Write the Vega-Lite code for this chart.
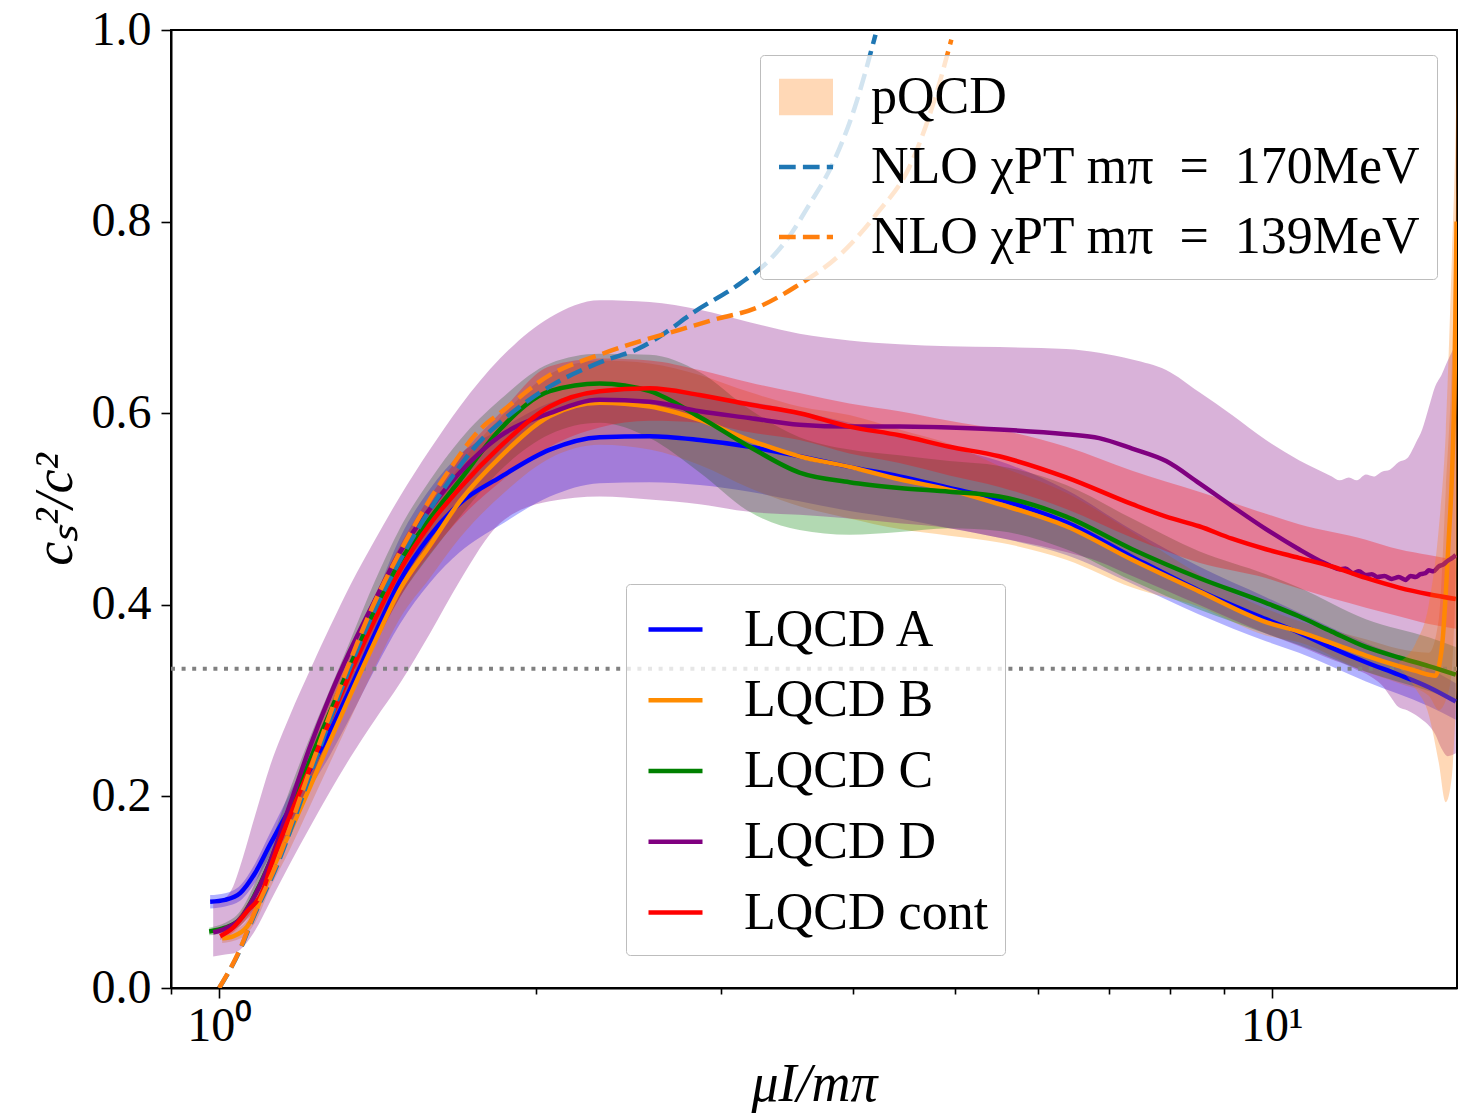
{
  "$schema": "https://vega.github.io/schema/vega-lite/v6.json",
  "width": 1286,
  "height": 958,
  "autosize": {"type": "none"},
  "padding": {"left": 171, "top": 30, "right": 12, "bottom": 127},
  "background": "white",
  "config": {
    "font": "Liberation Serif",
    "view": {"stroke": "black", "strokeWidth": 2},
    "axis": {
      "grid": false,
      "domainColor": "black",
      "domainWidth": 2,
      "tickColor": "black",
      "tickWidth": 1.6,
      "labelColor": "black",
      "labelFont": "Liberation Serif",
      "labelFontSize": 48,
      "titleFont": "Liberation Serif",
      "titleColor": "black",
      "titleFontWeight": "normal"
    },
    "legend": {
      "labelFont": "Liberation Serif",
      "labelFontSize": 52,
      "labelColor": "black",
      "labelLimit": 900,
      "symbolSize": 2916,
      "symbolStrokeWidth": 4.5,
      "padding": 16,
      "symbolOffset": 4,
      "labelOffset": 39,
      "strokeColor": "#bdbdbd",
      "fillColor": "rgba(255,255,255,0.8)",
      "cornerRadius": 4,
      "zindex": 1
    }
  },
  "datasets": {
    "lqcd": [
      {"series": "LQCD A", "mu": 0.9805, "cs2": 0.090}, {"series": "LQCD A", "mu": 1.0132, "cs2": 0.092},
      {"series": "LQCD A", "mu": 1.047, "cs2": 0.099}, {"series": "LQCD A", "mu": 1.0818, "cs2": 0.120},
      {"series": "LQCD A", "mu": 1.118, "cs2": 0.150}, {"series": "LQCD A", "mu": 1.1679, "cs2": 0.188},
      {"series": "LQCD A", "mu": 1.22, "cs2": 0.228}, {"series": "LQCD A", "mu": 1.2745, "cs2": 0.268},
      {"series": "LQCD A", "mu": 1.3314, "cs2": 0.312}, {"series": "LQCD A", "mu": 1.4063, "cs2": 0.370},
      {"series": "LQCD A", "mu": 1.4852, "cs2": 0.425}, {"series": "LQCD A", "mu": 1.5858, "cs2": 0.472},
      {"series": "LQCD A", "mu": 1.6933, "cs2": 0.506}, {"series": "LQCD A", "mu": 1.8483, "cs2": 0.533},
      {"series": "LQCD A", "mu": 2.0616, "cs2": 0.562}, {"series": "LQCD A", "mu": 2.2989, "cs2": 0.575},
      {"series": "LQCD A", "mu": 2.5648, "cs2": 0.576}, {"series": "LQCD A", "mu": 2.8608, "cs2": 0.572},
      {"series": "LQCD A", "mu": 3.1911, "cs2": 0.565}, {"series": "LQCD A", "mu": 3.5593, "cs2": 0.555},
      {"series": "LQCD A", "mu": 3.9704, "cs2": 0.544}, {"series": "LQCD A", "mu": 4.4289, "cs2": 0.534},
      {"series": "LQCD A", "mu": 4.9404, "cs2": 0.522}, {"series": "LQCD A", "mu": 5.5109, "cs2": 0.510},
      {"series": "LQCD A", "mu": 6.3794, "cs2": 0.486}, {"series": "LQCD A", "mu": 7.37, "cs2": 0.450},
      {"series": "LQCD A", "mu": 8.5317, "cs2": 0.415}, {"series": "LQCD A", "mu": 9.8764, "cs2": 0.385},
      {"series": "LQCD A", "mu": 10.615, "cs2": 0.371}, {"series": "LQCD A", "mu": 11.408, "cs2": 0.355},
      {"series": "LQCD A", "mu": 12.289, "cs2": 0.340}, {"series": "LQCD A", "mu": 13.207, "cs2": 0.327},
      {"series": "LQCD A", "mu": 14.102, "cs2": 0.314}, {"series": "LQCD A", "mu": 14.96, "cs2": 0.299},

      {"series": "LQCD B", "mu": 1.0066, "cs2": 0.052}, {"series": "LQCD B", "mu": 1.0311, "cs2": 0.054},
      {"series": "LQCD B", "mu": 1.0631, "cs2": 0.064}, {"series": "LQCD B", "mu": 1.0818, "cs2": 0.078},
      {"series": "LQCD B", "mu": 1.1009, "cs2": 0.100}, {"series": "LQCD B", "mu": 1.118, "cs2": 0.118},
      {"series": "LQCD B", "mu": 1.1679, "cs2": 0.163}, {"series": "LQCD B", "mu": 1.22, "cs2": 0.210},
      {"series": "LQCD B", "mu": 1.2745, "cs2": 0.258}, {"series": "LQCD B", "mu": 1.3314, "cs2": 0.305},
      {"series": "LQCD B", "mu": 1.4063, "cs2": 0.362}, {"series": "LQCD B", "mu": 1.4852, "cs2": 0.416},
      {"series": "LQCD B", "mu": 1.5858, "cs2": 0.462}, {"series": "LQCD B", "mu": 1.6933, "cs2": 0.508},
      {"series": "LQCD B", "mu": 1.8483, "cs2": 0.554}, {"series": "LQCD B", "mu": 2.0616, "cs2": 0.597},
      {"series": "LQCD B", "mu": 2.2989, "cs2": 0.611}, {"series": "LQCD B", "mu": 2.5648, "cs2": 0.607},
      {"series": "LQCD B", "mu": 2.8608, "cs2": 0.593}, {"series": "LQCD B", "mu": 3.1911, "cs2": 0.572},
      {"series": "LQCD B", "mu": 3.5593, "cs2": 0.555}, {"series": "LQCD B", "mu": 3.9704, "cs2": 0.544},
      {"series": "LQCD B", "mu": 4.4289, "cs2": 0.531}, {"series": "LQCD B", "mu": 4.9404, "cs2": 0.520},
      {"series": "LQCD B", "mu": 5.5109, "cs2": 0.505}, {"series": "LQCD B", "mu": 6.3794, "cs2": 0.482},
      {"series": "LQCD B", "mu": 7.37, "cs2": 0.447}, {"series": "LQCD B", "mu": 8.5317, "cs2": 0.414},
      {"series": "LQCD B", "mu": 9.8764, "cs2": 0.382}, {"series": "LQCD B", "mu": 10.615, "cs2": 0.372},
      {"series": "LQCD B", "mu": 11.408, "cs2": 0.360}, {"series": "LQCD B", "mu": 12.289, "cs2": 0.347},
      {"series": "LQCD B", "mu": 13.207, "cs2": 0.336}, {"series": "LQCD B", "mu": 13.706, "cs2": 0.331},
      {"series": "LQCD B", "mu": 14.102, "cs2": 0.327}, {"series": "LQCD B", "mu": 14.32, "cs2": 0.326},
      {"series": "LQCD B", "mu": 14.414, "cs2": 0.335}, {"series": "LQCD B", "mu": 14.54, "cs2": 0.365},
      {"series": "LQCD B", "mu": 14.636, "cs2": 0.412}, {"series": "LQCD B", "mu": 14.733, "cs2": 0.470},
      {"series": "LQCD B", "mu": 14.83, "cs2": 0.531}, {"series": "LQCD B", "mu": 14.928, "cs2": 0.650},
      {"series": "LQCD B", "mu": 14.985, "cs2": 0.800},

      {"series": "LQCD C", "mu": 0.9784, "cs2": 0.059}, {"series": "LQCD C", "mu": 1.0132, "cs2": 0.063},
      {"series": "LQCD C", "mu": 1.047, "cs2": 0.072}, {"series": "LQCD C", "mu": 1.0818, "cs2": 0.098},
      {"series": "LQCD C", "mu": 1.118, "cs2": 0.132}, {"series": "LQCD C", "mu": 1.1679, "cs2": 0.186},
      {"series": "LQCD C", "mu": 1.22, "cs2": 0.238}, {"series": "LQCD C", "mu": 1.2745, "cs2": 0.288},
      {"series": "LQCD C", "mu": 1.3314, "cs2": 0.336}, {"series": "LQCD C", "mu": 1.4063, "cs2": 0.395},
      {"series": "LQCD C", "mu": 1.4852, "cs2": 0.445}, {"series": "LQCD C", "mu": 1.5858, "cs2": 0.490},
      {"series": "LQCD C", "mu": 1.6933, "cs2": 0.530}, {"series": "LQCD C", "mu": 1.8483, "cs2": 0.583},
      {"series": "LQCD C", "mu": 2.0616, "cs2": 0.623}, {"series": "LQCD C", "mu": 2.2989, "cs2": 0.631},
      {"series": "LQCD C", "mu": 2.5648, "cs2": 0.623}, {"series": "LQCD C", "mu": 2.8608, "cs2": 0.596},
      {"series": "LQCD C", "mu": 3.1911, "cs2": 0.565}, {"series": "LQCD C", "mu": 3.5593, "cs2": 0.538},
      {"series": "LQCD C", "mu": 3.9704, "cs2": 0.528}, {"series": "LQCD C", "mu": 4.4289, "cs2": 0.522},
      {"series": "LQCD C", "mu": 4.9404, "cs2": 0.518}, {"series": "LQCD C", "mu": 5.5109, "cs2": 0.513},
      {"series": "LQCD C", "mu": 6.3794, "cs2": 0.492}, {"series": "LQCD C", "mu": 7.37, "cs2": 0.458},
      {"series": "LQCD C", "mu": 8.5317, "cs2": 0.428}, {"series": "LQCD C", "mu": 9.8764, "cs2": 0.402},
      {"series": "LQCD C", "mu": 10.615, "cs2": 0.388}, {"series": "LQCD C", "mu": 11.408, "cs2": 0.372},
      {"series": "LQCD C", "mu": 12.289, "cs2": 0.356}, {"series": "LQCD C", "mu": 13.207, "cs2": 0.345},
      {"series": "LQCD C", "mu": 14.102, "cs2": 0.336}, {"series": "LQCD C", "mu": 14.96, "cs2": 0.327},

      {"series": "LQCD D", "mu": 0.987, "cs2": 0.058}, {"series": "LQCD D", "mu": 1.0132, "cs2": 0.062},
      {"series": "LQCD D", "mu": 1.047, "cs2": 0.072}, {"series": "LQCD D", "mu": 1.0818, "cs2": 0.097},
      {"series": "LQCD D", "mu": 1.118, "cs2": 0.132}, {"series": "LQCD D", "mu": 1.1679, "cs2": 0.192},
      {"series": "LQCD D", "mu": 1.22, "cs2": 0.252}, {"series": "LQCD D", "mu": 1.2745, "cs2": 0.305},
      {"series": "LQCD D", "mu": 1.3314, "cs2": 0.352}, {"series": "LQCD D", "mu": 1.4063, "cs2": 0.405},
      {"series": "LQCD D", "mu": 1.4852, "cs2": 0.455}, {"series": "LQCD D", "mu": 1.5858, "cs2": 0.500},
      {"series": "LQCD D", "mu": 1.6933, "cs2": 0.538}, {"series": "LQCD D", "mu": 1.8483, "cs2": 0.576},
      {"series": "LQCD D", "mu": 2.0616, "cs2": 0.600}, {"series": "LQCD D", "mu": 2.2989, "cs2": 0.614},
      {"series": "LQCD D", "mu": 2.5648, "cs2": 0.612}, {"series": "LQCD D", "mu": 2.8608, "cs2": 0.602},
      {"series": "LQCD D", "mu": 3.1911, "cs2": 0.595}, {"series": "LQCD D", "mu": 3.5593, "cs2": 0.588},
      {"series": "LQCD D", "mu": 3.9704, "cs2": 0.586}, {"series": "LQCD D", "mu": 4.4289, "cs2": 0.586},
      {"series": "LQCD D", "mu": 4.9404, "cs2": 0.585}, {"series": "LQCD D", "mu": 5.5109, "cs2": 0.583},
      {"series": "LQCD D", "mu": 6.3794, "cs2": 0.578}, {"series": "LQCD D", "mu": 6.856, "cs2": 0.574},
      {"series": "LQCD D", "mu": 7.37, "cs2": 0.563}, {"series": "LQCD D", "mu": 7.938, "cs2": 0.550},
      {"series": "LQCD D", "mu": 8.5317, "cs2": 0.527}, {"series": "LQCD D", "mu": 9.169, "cs2": 0.503},
      {"series": "LQCD D", "mu": 9.8764, "cs2": 0.479}, {"series": "LQCD D", "mu": 10.615, "cs2": 0.458},
      {"series": "LQCD D", "mu": 11.2, "cs2": 0.444}, {"series": "LQCD D", "mu": 11.408, "cs2": 0.440},
      {"series": "LQCD D", "mu": 11.6, "cs2": 0.437}, {"series": "LQCD D", "mu": 11.75, "cs2": 0.438},
      {"series": "LQCD D", "mu": 11.95, "cs2": 0.433}, {"series": "LQCD D", "mu": 12.1, "cs2": 0.435},
      {"series": "LQCD D", "mu": 12.289, "cs2": 0.431}, {"series": "LQCD D", "mu": 12.45, "cs2": 0.432},
      {"series": "LQCD D", "mu": 12.6, "cs2": 0.429}, {"series": "LQCD D", "mu": 12.8, "cs2": 0.430},
      {"series": "LQCD D", "mu": 13.0, "cs2": 0.427}, {"series": "LQCD D", "mu": 13.207, "cs2": 0.429},
      {"series": "LQCD D", "mu": 13.4, "cs2": 0.426}, {"series": "LQCD D", "mu": 13.55, "cs2": 0.430},
      {"series": "LQCD D", "mu": 13.706, "cs2": 0.429}, {"series": "LQCD D", "mu": 13.85, "cs2": 0.432},
      {"series": "LQCD D", "mu": 14.0, "cs2": 0.433}, {"series": "LQCD D", "mu": 14.102, "cs2": 0.436},
      {"series": "LQCD D", "mu": 14.25, "cs2": 0.435}, {"series": "LQCD D", "mu": 14.414, "cs2": 0.440},
      {"series": "LQCD D", "mu": 14.55, "cs2": 0.442}, {"series": "LQCD D", "mu": 14.7, "cs2": 0.446},
      {"series": "LQCD D", "mu": 14.85, "cs2": 0.449}, {"series": "LQCD D", "mu": 14.96, "cs2": 0.452},

      {"series": "LQCD cont", "mu": 1.0022, "cs2": 0.054}, {"series": "LQCD cont", "mu": 1.0311, "cs2": 0.063},
      {"series": "LQCD cont", "mu": 1.0631, "cs2": 0.080}, {"series": "LQCD cont", "mu": 1.1009, "cs2": 0.102},
      {"series": "LQCD cont", "mu": 1.118, "cs2": 0.125}, {"series": "LQCD cont", "mu": 1.1679, "cs2": 0.180},
      {"series": "LQCD cont", "mu": 1.22, "cs2": 0.230}, {"series": "LQCD cont", "mu": 1.2745, "cs2": 0.280},
      {"series": "LQCD cont", "mu": 1.3314, "cs2": 0.328}, {"series": "LQCD cont", "mu": 1.4063, "cs2": 0.385},
      {"series": "LQCD cont", "mu": 1.4852, "cs2": 0.436}, {"series": "LQCD cont", "mu": 1.5858, "cs2": 0.484},
      {"series": "LQCD cont", "mu": 1.6933, "cs2": 0.522}, {"series": "LQCD cont", "mu": 1.8483, "cs2": 0.565},
      {"series": "LQCD cont", "mu": 2.0616, "cs2": 0.607}, {"series": "LQCD cont", "mu": 2.2989, "cs2": 0.623},
      {"series": "LQCD cont", "mu": 2.5648, "cs2": 0.626}, {"series": "LQCD cont", "mu": 2.8608, "cs2": 0.619},
      {"series": "LQCD cont", "mu": 3.1911, "cs2": 0.609}, {"series": "LQCD cont", "mu": 3.5593, "cs2": 0.600},
      {"series": "LQCD cont", "mu": 3.9704, "cs2": 0.586}, {"series": "LQCD cont", "mu": 4.4289, "cs2": 0.577},
      {"series": "LQCD cont", "mu": 4.9404, "cs2": 0.565}, {"series": "LQCD cont", "mu": 5.5109, "cs2": 0.555},
      {"series": "LQCD cont", "mu": 6.3794, "cs2": 0.533}, {"series": "LQCD cont", "mu": 7.37, "cs2": 0.505},
      {"series": "LQCD cont", "mu": 7.938, "cs2": 0.492}, {"series": "LQCD cont", "mu": 8.5317, "cs2": 0.482},
      {"series": "LQCD cont", "mu": 9.169, "cs2": 0.469}, {"series": "LQCD cont", "mu": 9.8764, "cs2": 0.458},
      {"series": "LQCD cont", "mu": 10.615, "cs2": 0.449}, {"series": "LQCD cont", "mu": 11.408, "cs2": 0.440},
      {"series": "LQCD cont", "mu": 12.289, "cs2": 0.428}, {"series": "LQCD cont", "mu": 13.207, "cs2": 0.418},
      {"series": "LQCD cont", "mu": 14.102, "cs2": 0.411}, {"series": "LQCD cont", "mu": 14.96, "cs2": 0.406}
    ],
    "bands": [
      {"series": "LQCD A", "mu": 0.9805, "lo": 0.083, "hi": 0.097}, {"series": "LQCD A", "mu": 1.0132, "lo": 0.085, "hi": 0.099},
      {"series": "LQCD A", "mu": 1.047, "lo": 0.091, "hi": 0.107}, {"series": "LQCD A", "mu": 1.0818, "lo": 0.110, "hi": 0.130},
      {"series": "LQCD A", "mu": 1.118, "lo": 0.138, "hi": 0.162}, {"series": "LQCD A", "mu": 1.1679, "lo": 0.172, "hi": 0.204},
      {"series": "LQCD A", "mu": 1.22, "lo": 0.208, "hi": 0.248}, {"series": "LQCD A", "mu": 1.2745, "lo": 0.243, "hi": 0.293},
      {"series": "LQCD A", "mu": 1.3314, "lo": 0.282, "hi": 0.342}, {"series": "LQCD A", "mu": 1.4063, "lo": 0.333, "hi": 0.407},
      {"series": "LQCD A", "mu": 1.4852, "lo": 0.380, "hi": 0.470}, {"series": "LQCD A", "mu": 1.5858, "lo": 0.423, "hi": 0.521},
      {"series": "LQCD A", "mu": 1.6933, "lo": 0.455, "hi": 0.557}, {"series": "LQCD A", "mu": 1.8483, "lo": 0.483, "hi": 0.583},
      {"series": "LQCD A", "mu": 2.0616, "lo": 0.513, "hi": 0.611}, {"series": "LQCD A", "mu": 2.2989, "lo": 0.527, "hi": 0.623},
      {"series": "LQCD A", "mu": 2.5648, "lo": 0.528, "hi": 0.624}, {"series": "LQCD A", "mu": 2.8608, "lo": 0.525, "hi": 0.619},
      {"series": "LQCD A", "mu": 3.1911, "lo": 0.518, "hi": 0.612}, {"series": "LQCD A", "mu": 3.5593, "lo": 0.508, "hi": 0.602},
      {"series": "LQCD A", "mu": 3.9704, "lo": 0.498, "hi": 0.590}, {"series": "LQCD A", "mu": 4.4289, "lo": 0.490, "hi": 0.578},
      {"series": "LQCD A", "mu": 4.9404, "lo": 0.480, "hi": 0.564}, {"series": "LQCD A", "mu": 5.5109, "lo": 0.470, "hi": 0.550},
      {"series": "LQCD A", "mu": 6.3794, "lo": 0.452, "hi": 0.520}, {"series": "LQCD A", "mu": 7.37, "lo": 0.422, "hi": 0.478},
      {"series": "LQCD A", "mu": 8.5317, "lo": 0.390, "hi": 0.440}, {"series": "LQCD A", "mu": 9.8764, "lo": 0.362, "hi": 0.408},
      {"series": "LQCD A", "mu": 10.615, "lo": 0.350, "hi": 0.392}, {"series": "LQCD A", "mu": 12.289, "lo": 0.320, "hi": 0.360},
      {"series": "LQCD A", "mu": 14.102, "lo": 0.294, "hi": 0.334}, {"series": "LQCD A", "mu": 14.96, "lo": 0.280, "hi": 0.318},

      {"series": "LQCD B", "mu": 1.0066, "lo": 0.047, "hi": 0.057}, {"series": "LQCD B", "mu": 1.0311, "lo": 0.049, "hi": 0.060},
      {"series": "LQCD B", "mu": 1.0631, "lo": 0.057, "hi": 0.071}, {"series": "LQCD B", "mu": 1.0818, "lo": 0.068, "hi": 0.088},
      {"series": "LQCD B", "mu": 1.118, "lo": 0.104, "hi": 0.132}, {"series": "LQCD B", "mu": 1.1679, "lo": 0.145, "hi": 0.181},
      {"series": "LQCD B", "mu": 1.22, "lo": 0.190, "hi": 0.230}, {"series": "LQCD B", "mu": 1.2745, "lo": 0.235, "hi": 0.281},
      {"series": "LQCD B", "mu": 1.3314, "lo": 0.280, "hi": 0.330}, {"series": "LQCD B", "mu": 1.4063, "lo": 0.335, "hi": 0.389},
      {"series": "LQCD B", "mu": 1.4852, "lo": 0.386, "hi": 0.446}, {"series": "LQCD B", "mu": 1.5858, "lo": 0.428, "hi": 0.496},
      {"series": "LQCD B", "mu": 1.6933, "lo": 0.470, "hi": 0.546}, {"series": "LQCD B", "mu": 1.8483, "lo": 0.513, "hi": 0.595},
      {"series": "LQCD B", "mu": 2.0616, "lo": 0.553, "hi": 0.641}, {"series": "LQCD B", "mu": 2.2989, "lo": 0.567, "hi": 0.655},
      {"series": "LQCD B", "mu": 2.5648, "lo": 0.562, "hi": 0.652}, {"series": "LQCD B", "mu": 2.8608, "lo": 0.546, "hi": 0.640},
      {"series": "LQCD B", "mu": 3.1911, "lo": 0.522, "hi": 0.622}, {"series": "LQCD B", "mu": 3.5593, "lo": 0.503, "hi": 0.607},
      {"series": "LQCD B", "mu": 3.9704, "lo": 0.490, "hi": 0.598}, {"series": "LQCD B", "mu": 4.4289, "lo": 0.479, "hi": 0.583},
      {"series": "LQCD B", "mu": 4.9404, "lo": 0.472, "hi": 0.568}, {"series": "LQCD B", "mu": 5.5109, "lo": 0.465, "hi": 0.545},
      {"series": "LQCD B", "mu": 6.3794, "lo": 0.447, "hi": 0.517}, {"series": "LQCD B", "mu": 7.37, "lo": 0.418, "hi": 0.476},
      {"series": "LQCD B", "mu": 8.5317, "lo": 0.398, "hi": 0.432}, {"series": "LQCD B", "mu": 9.8764, "lo": 0.368, "hi": 0.396},
      {"series": "LQCD B", "mu": 10.615, "lo": 0.361, "hi": 0.383}, {"series": "LQCD B", "mu": 12.289, "lo": 0.330, "hi": 0.364},
      {"series": "LQCD B", "mu": 13.207, "lo": 0.318, "hi": 0.354}, {"series": "LQCD B", "mu": 14.102, "lo": 0.305, "hi": 0.350},
      {"series": "LQCD B", "mu": 14.414, "lo": 0.290, "hi": 0.385}, {"series": "LQCD B", "mu": 14.636, "lo": 0.300, "hi": 0.520},
      {"series": "LQCD B", "mu": 14.83, "lo": 0.330, "hi": 0.650}, {"series": "LQCD B", "mu": 14.985, "lo": 0.450, "hi": 0.850},

      {"series": "LQCD C", "mu": 0.9784, "lo": 0.055, "hi": 0.063}, {"series": "LQCD C", "mu": 1.0132, "lo": 0.058, "hi": 0.068},
      {"series": "LQCD C", "mu": 1.047, "lo": 0.065, "hi": 0.080}, {"series": "LQCD C", "mu": 1.0818, "lo": 0.085, "hi": 0.110},
      {"series": "LQCD C", "mu": 1.118, "lo": 0.115, "hi": 0.150}, {"series": "LQCD C", "mu": 1.1679, "lo": 0.165, "hi": 0.208},
      {"series": "LQCD C", "mu": 1.22, "lo": 0.215, "hi": 0.262}, {"series": "LQCD C", "mu": 1.2745, "lo": 0.262, "hi": 0.312},
      {"series": "LQCD C", "mu": 1.3314, "lo": 0.307, "hi": 0.362}, {"series": "LQCD C", "mu": 1.4063, "lo": 0.360, "hi": 0.425},
      {"series": "LQCD C", "mu": 1.4852, "lo": 0.408, "hi": 0.480}, {"series": "LQCD C", "mu": 1.5858, "lo": 0.452, "hi": 0.530},
      {"series": "LQCD C", "mu": 1.6933, "lo": 0.492, "hi": 0.572}, {"series": "LQCD C", "mu": 1.8483, "lo": 0.540, "hi": 0.614},
      {"series": "LQCD C", "mu": 2.0616, "lo": 0.578, "hi": 0.652}, {"series": "LQCD C", "mu": 2.2989, "lo": 0.590, "hi": 0.662},
      {"series": "LQCD C", "mu": 2.5648, "lo": 0.574, "hi": 0.661}, {"series": "LQCD C", "mu": 2.8608, "lo": 0.538, "hi": 0.643},
      {"series": "LQCD C", "mu": 3.1911, "lo": 0.497, "hi": 0.604}, {"series": "LQCD C", "mu": 3.5593, "lo": 0.478, "hi": 0.575},
      {"series": "LQCD C", "mu": 3.9704, "lo": 0.473, "hi": 0.562}, {"series": "LQCD C", "mu": 4.4289, "lo": 0.476, "hi": 0.556},
      {"series": "LQCD C", "mu": 4.9404, "lo": 0.480, "hi": 0.550}, {"series": "LQCD C", "mu": 5.5109, "lo": 0.477, "hi": 0.545},
      {"series": "LQCD C", "mu": 6.3794, "lo": 0.458, "hi": 0.525}, {"series": "LQCD C", "mu": 7.37, "lo": 0.425, "hi": 0.490},
      {"series": "LQCD C", "mu": 8.5317, "lo": 0.395, "hi": 0.456}, {"series": "LQCD C", "mu": 9.8764, "lo": 0.370, "hi": 0.432},
      {"series": "LQCD C", "mu": 10.615, "lo": 0.358, "hi": 0.418}, {"series": "LQCD C", "mu": 12.289, "lo": 0.330, "hi": 0.385},
      {"series": "LQCD C", "mu": 14.102, "lo": 0.310, "hi": 0.366}, {"series": "LQCD C", "mu": 14.96, "lo": 0.300, "hi": 0.356},

      {"series": "LQCD D", "mu": 0.987, "lo": 0.033, "hi": 0.090}, {"series": "LQCD D", "mu": 1.0132, "lo": 0.035, "hi": 0.094},
      {"series": "LQCD D", "mu": 1.0311, "lo": 0.036, "hi": 0.106}, {"series": "LQCD D", "mu": 1.047, "lo": 0.040, "hi": 0.127},
      {"series": "LQCD D", "mu": 1.0818, "lo": 0.060, "hi": 0.180}, {"series": "LQCD D", "mu": 1.118, "lo": 0.090, "hi": 0.232},
      {"series": "LQCD D", "mu": 1.1679, "lo": 0.130, "hi": 0.285}, {"series": "LQCD D", "mu": 1.22, "lo": 0.168, "hi": 0.332},
      {"series": "LQCD D", "mu": 1.2745, "lo": 0.205, "hi": 0.377}, {"series": "LQCD D", "mu": 1.3314, "lo": 0.240, "hi": 0.420},
      {"series": "LQCD D", "mu": 1.4063, "lo": 0.280, "hi": 0.468}, {"series": "LQCD D", "mu": 1.4852, "lo": 0.318, "hi": 0.513},
      {"series": "LQCD D", "mu": 1.5858, "lo": 0.370, "hi": 0.562}, {"series": "LQCD D", "mu": 1.6933, "lo": 0.425, "hi": 0.607},
      {"series": "LQCD D", "mu": 1.8483, "lo": 0.485, "hi": 0.657}, {"series": "LQCD D", "mu": 2.0616, "lo": 0.508, "hi": 0.700},
      {"series": "LQCD D", "mu": 2.2989, "lo": 0.513, "hi": 0.718}, {"series": "LQCD D", "mu": 2.5648, "lo": 0.510, "hi": 0.716},
      {"series": "LQCD D", "mu": 2.8608, "lo": 0.505, "hi": 0.708}, {"series": "LQCD D", "mu": 3.1911, "lo": 0.497, "hi": 0.695},
      {"series": "LQCD D", "mu": 3.5593, "lo": 0.494, "hi": 0.683}, {"series": "LQCD D", "mu": 3.9704, "lo": 0.490, "hi": 0.676},
      {"series": "LQCD D", "mu": 4.4289, "lo": 0.485, "hi": 0.672}, {"series": "LQCD D", "mu": 4.9404, "lo": 0.480, "hi": 0.670},
      {"series": "LQCD D", "mu": 5.5109, "lo": 0.470, "hi": 0.669}, {"series": "LQCD D", "mu": 6.3794, "lo": 0.455, "hi": 0.667},
      {"series": "LQCD D", "mu": 6.856, "lo": 0.445, "hi": 0.663}, {"series": "LQCD D", "mu": 7.37, "lo": 0.430, "hi": 0.656},
      {"series": "LQCD D", "mu": 7.938, "lo": 0.415, "hi": 0.645}, {"series": "LQCD D", "mu": 8.5317, "lo": 0.400, "hi": 0.622},
      {"series": "LQCD D", "mu": 9.169, "lo": 0.385, "hi": 0.598}, {"series": "LQCD D", "mu": 9.8764, "lo": 0.370, "hi": 0.572},
      {"series": "LQCD D", "mu": 10.615, "lo": 0.357, "hi": 0.551}, {"series": "LQCD D", "mu": 11.408, "lo": 0.343, "hi": 0.534},
      {"series": "LQCD D", "mu": 11.6, "lo": 0.340, "hi": 0.530}, {"series": "LQCD D", "mu": 11.84, "lo": 0.336, "hi": 0.533},
      {"series": "LQCD D", "mu": 12.05, "lo": 0.332, "hi": 0.530}, {"series": "LQCD D", "mu": 12.289, "lo": 0.328, "hi": 0.536},
      {"series": "LQCD D", "mu": 12.5, "lo": 0.323, "hi": 0.534}, {"series": "LQCD D", "mu": 12.73, "lo": 0.316, "hi": 0.539},
      {"series": "LQCD D", "mu": 12.95, "lo": 0.305, "hi": 0.541}, {"series": "LQCD D", "mu": 13.207, "lo": 0.293, "hi": 0.549},
      {"series": "LQCD D", "mu": 13.45, "lo": 0.290, "hi": 0.553}, {"series": "LQCD D", "mu": 13.706, "lo": 0.285, "hi": 0.569},
      {"series": "LQCD D", "mu": 13.9, "lo": 0.280, "hi": 0.583}, {"series": "LQCD D", "mu": 14.102, "lo": 0.274, "hi": 0.606},
      {"series": "LQCD D", "mu": 14.3, "lo": 0.265, "hi": 0.628}, {"series": "LQCD D", "mu": 14.5, "lo": 0.250, "hi": 0.640},
      {"series": "LQCD D", "mu": 14.7, "lo": 0.242, "hi": 0.655}, {"series": "LQCD D", "mu": 14.96, "lo": 0.245, "hi": 0.672},

      {"series": "LQCD cont", "mu": 1.0022, "lo": 0.050, "hi": 0.058}, {"series": "LQCD cont", "mu": 1.0311, "lo": 0.058, "hi": 0.068},
      {"series": "LQCD cont", "mu": 1.0631, "lo": 0.072, "hi": 0.088}, {"series": "LQCD cont", "mu": 1.1009, "lo": 0.092, "hi": 0.113},
      {"series": "LQCD cont", "mu": 1.118, "lo": 0.112, "hi": 0.138}, {"series": "LQCD cont", "mu": 1.1679, "lo": 0.163, "hi": 0.197},
      {"series": "LQCD cont", "mu": 1.22, "lo": 0.210, "hi": 0.250}, {"series": "LQCD cont", "mu": 1.2745, "lo": 0.258, "hi": 0.302},
      {"series": "LQCD cont", "mu": 1.3314, "lo": 0.305, "hi": 0.352}, {"series": "LQCD cont", "mu": 1.4063, "lo": 0.358, "hi": 0.410},
      {"series": "LQCD cont", "mu": 1.4852, "lo": 0.408, "hi": 0.462}, {"series": "LQCD cont", "mu": 1.5858, "lo": 0.453, "hi": 0.513},
      {"series": "LQCD cont", "mu": 1.6933, "lo": 0.490, "hi": 0.555}, {"series": "LQCD cont", "mu": 1.8483, "lo": 0.528, "hi": 0.600},
      {"series": "LQCD cont", "mu": 2.0616, "lo": 0.565, "hi": 0.649}, {"series": "LQCD cont", "mu": 2.2989, "lo": 0.585, "hi": 0.657},
      {"series": "LQCD cont", "mu": 2.5648, "lo": 0.592, "hi": 0.655}, {"series": "LQCD cont", "mu": 2.8608, "lo": 0.590, "hi": 0.645},
      {"series": "LQCD cont", "mu": 3.1911, "lo": 0.580, "hi": 0.632}, {"series": "LQCD cont", "mu": 3.5593, "lo": 0.572, "hi": 0.621},
      {"series": "LQCD cont", "mu": 3.9704, "lo": 0.558, "hi": 0.610}, {"series": "LQCD cont", "mu": 4.4289, "lo": 0.548, "hi": 0.602},
      {"series": "LQCD cont", "mu": 4.9404, "lo": 0.535, "hi": 0.592}, {"series": "LQCD cont", "mu": 5.5109, "lo": 0.523, "hi": 0.583},
      {"series": "LQCD cont", "mu": 6.3794, "lo": 0.500, "hi": 0.565}, {"series": "LQCD cont", "mu": 7.37, "lo": 0.470, "hi": 0.540},
      {"series": "LQCD cont", "mu": 8.5317, "lo": 0.444, "hi": 0.518}, {"series": "LQCD cont", "mu": 9.8764, "lo": 0.428, "hi": 0.495},
      {"series": "LQCD cont", "mu": 10.615, "lo": 0.417, "hi": 0.484}, {"series": "LQCD cont", "mu": 12.289, "lo": 0.397, "hi": 0.468},
      {"series": "LQCD cont", "mu": 13.207, "lo": 0.388, "hi": 0.458}, {"series": "LQCD cont", "mu": 14.102, "lo": 0.380, "hi": 0.452},
      {"series": "LQCD cont", "mu": 14.96, "lo": 0.375, "hi": 0.447}
    ],
    "pqcd": [
      {"series": "pQCD", "mu": 13.207, "lo": 0.335, "hi": 0.340},
      {"series": "pQCD", "mu": 13.706, "lo": 0.312, "hi": 0.360},
      {"series": "pQCD", "mu": 14.102, "lo": 0.285, "hi": 0.400},
      {"series": "pQCD", "mu": 14.414, "lo": 0.235, "hi": 0.480},
      {"series": "pQCD", "mu": 14.636, "lo": 0.194, "hi": 0.580},
      {"series": "pQCD", "mu": 14.83, "lo": 0.220, "hi": 0.760},
      {"series": "pQCD", "mu": 14.96, "lo": 0.290, "hi": 0.900},
      {"series": "pQCD", "mu": 15.0, "lo": 0.310, "hi": 0.970}
    ],
    "nlo": [
      {"series": "NLO χPT mπ\u2002=\u2002170MeV", "mu": 1.0, "cs2": 0.0},
      {"series": "NLO χPT mπ\u2002=\u2002170MeV", "mu": 1.047, "cs2": 0.040},
      {"series": "NLO χPT mπ\u2002=\u2002170MeV", "mu": 1.077, "cs2": 0.073},
      {"series": "NLO χPT mπ\u2002=\u2002170MeV", "mu": 1.135, "cs2": 0.128},
      {"series": "NLO χPT mπ\u2002=\u2002170MeV", "mu": 1.22, "cs2": 0.222},
      {"series": "NLO χPT mπ\u2002=\u2002170MeV", "mu": 1.311, "cs2": 0.316},
      {"series": "NLO χPT mπ\u2002=\u2002170MeV", "mu": 1.391, "cs2": 0.384},
      {"series": "NLO χPT mπ\u2002=\u2002170MeV", "mu": 1.495, "cs2": 0.452},
      {"series": "NLO χPT mπ\u2002=\u2002170MeV", "mu": 1.632, "cs2": 0.520},
      {"series": "NLO χPT mπ\u2002=\u2002170MeV", "mu": 1.781, "cs2": 0.574},
      {"series": "NLO χPT mπ\u2002=\u2002170MeV", "mu": 1.848, "cs2": 0.590},
      {"series": "NLO χPT mπ\u2002=\u2002170MeV", "mu": 2.062, "cs2": 0.628},
      {"series": "NLO χPT mπ\u2002=\u2002170MeV", "mu": 2.299, "cs2": 0.653},
      {"series": "NLO χPT mπ\u2002=\u2002170MeV", "mu": 2.509, "cs2": 0.668},
      {"series": "NLO χPT mπ\u2002=\u2002170MeV", "mu": 2.621, "cs2": 0.680},
      {"series": "NLO χPT mπ\u2002=\u2002170MeV", "mu": 2.83, "cs2": 0.706},
      {"series": "NLO χPT mπ\u2002=\u2002170MeV", "mu": 3.122, "cs2": 0.735},
      {"series": "NLO χPT mπ\u2002=\u2002170MeV", "mu": 3.334, "cs2": 0.760},
      {"series": "NLO χPT mπ\u2002=\u2002170MeV", "mu": 3.483, "cs2": 0.785},
      {"series": "NLO χPT mπ\u2002=\u2002170MeV", "mu": 3.638, "cs2": 0.818},
      {"series": "NLO χPT mπ\u2002=\u2002170MeV", "mu": 3.826, "cs2": 0.860},
      {"series": "NLO χPT mπ\u2002=\u2002170MeV", "mu": 4.014, "cs2": 0.918},
      {"series": "NLO χPT mπ\u2002=\u2002170MeV", "mu": 4.203, "cs2": 0.995},
      {"series": "NLO χPT mπ\u2002=\u2002139MeV", "mu": 1.0, "cs2": 0.0},
      {"series": "NLO χPT mπ\u2002=\u2002139MeV", "mu": 1.047, "cs2": 0.041},
      {"series": "NLO χPT mπ\u2002=\u2002139MeV", "mu": 1.077, "cs2": 0.075},
      {"series": "NLO χPT mπ\u2002=\u2002139MeV", "mu": 1.135, "cs2": 0.131},
      {"series": "NLO χPT mπ\u2002=\u2002139MeV", "mu": 1.22, "cs2": 0.228},
      {"series": "NLO χPT mπ\u2002=\u2002139MeV", "mu": 1.311, "cs2": 0.322},
      {"series": "NLO χPT mπ\u2002=\u2002139MeV", "mu": 1.391, "cs2": 0.392},
      {"series": "NLO χPT mπ\u2002=\u2002139MeV", "mu": 1.495, "cs2": 0.461},
      {"series": "NLO χPT mπ\u2002=\u2002139MeV", "mu": 1.632, "cs2": 0.531},
      {"series": "NLO χPT mπ\u2002=\u2002139MeV", "mu": 1.781, "cs2": 0.586},
      {"series": "NLO χPT mπ\u2002=\u2002139MeV", "mu": 1.848, "cs2": 0.600},
      {"series": "NLO χPT mπ\u2002=\u2002139MeV", "mu": 2.062, "cs2": 0.640},
      {"series": "NLO χPT mπ\u2002=\u2002139MeV", "mu": 2.299, "cs2": 0.661},
      {"series": "NLO χPT mπ\u2002=\u2002139MeV", "mu": 2.509, "cs2": 0.675},
      {"series": "NLO χPT mπ\u2002=\u2002139MeV", "mu": 2.738, "cs2": 0.687},
      {"series": "NLO χPT mπ\u2002=\u2002139MeV", "mu": 2.937, "cs2": 0.697},
      {"series": "NLO χPT mπ\u2002=\u2002139MeV", "mu": 3.24, "cs2": 0.710},
      {"series": "NLO χPT mπ\u2002=\u2002139MeV", "mu": 3.529, "cs2": 0.732},
      {"series": "NLO χPT mπ\u2002=\u2002139MeV", "mu": 3.902, "cs2": 0.767},
      {"series": "NLO χPT mπ\u2002=\u2002139MeV", "mu": 4.221, "cs2": 0.809},
      {"series": "NLO χPT mπ\u2002=\u2002139MeV", "mu": 4.527, "cs2": 0.857},
      {"series": "NLO χPT mπ\u2002=\u2002139MeV", "mu": 4.76, "cs2": 0.920},
      {"series": "NLO χPT mπ\u2002=\u2002139MeV", "mu": 4.962, "cs2": 0.990}
    ],
    "conformal": [{"mu": 0.9, "cs2": 0.3333}, {"mu": 15.0, "cs2": 0.3333}]
  },
  "encoding": {
    "x": {
      "field": "mu",
      "type": "quantitative",
      "scale": {"type": "log", "domain": [0.9, 15], "nice": false},
      "axis": {
        "values": [0.9, 1, 2, 3, 4, 5, 6, 7, 8, 9, 10],
        "labelExpr": "datum.value == 1 ? '10⁰' : (datum.value == 10 ? '10¹' : '')",
        "tickSize": {"condition": {"test": "datum.value == 1 || datum.value == 10", "value": 10}, "value": 6},
        "labelPadding": 4,
        "labelFlush": false,
        "labelOverlap": false,
        "title": "μI/mπ",
        "titleFontSize": 54,
        "titleFontStyle": "italic",
        "titleY": 112,
        "titleBaseline": "alphabetic"
      }
    }
  },
  "layer": [
    {
      "layer": [
        {
          "data": {"name": "bands"},
          "mark": {"type": "area", "opacity": 0.3, "interpolate": "monotone", "clip": true},
          "encoding": {
            "y": {
              "field": "lo",
              "type": "quantitative",
              "stack": null,
              "scale": {"domain": [0, 1], "nice": false},
              "axis": {
                "values": [0, 0.2, 0.4, 0.6, 0.8, 1],
                "format": ".1f",
                "tickSize": 10,
                "labelPadding": 10,
                "title": "cₛ²/c²",
                "titleFontSize": 54,
                "titleFontStyle": "italic",
                "titleX": -100,
                "titleY": 479,
                "titleBaseline": "alphabetic"
              }
            },
            "y2": {"field": "hi"},
            "color": {
              "field": "series",
              "type": "nominal",
              "scale": {
                "domain": ["LQCD A", "LQCD B", "LQCD C", "LQCD D", "LQCD cont"],
                "range": ["#0000ff", "#ff8c00", "#008000", "#800080", "#ff0000"]
              },
              "legend": {
                "title": null,
                "orient": "none",
                "direction": "vertical",
                "legendX": 455,
                "legendY": 554,
                "rowPadding": 14.75,
                "symbolType": "stroke",
                "symbolOpacity": 1,
                "encoding": {
                  "symbols": {
                    "shape": {"value": "stroke"},
                    "fill": {"value": "transparent"},
                    "stroke": {"value": {"expr": "datum.value === 'LQCD A' ? '#0000ff' : datum.value === 'LQCD B' ? '#ff8c00' : datum.value === 'LQCD C' ? '#008000' : datum.value === 'LQCD D' ? '#800080' : '#ff0000'"}},
                    "strokeWidth": {"value": 4.5},
                    "opacity": {"value": 1},
                    "strokeOpacity": {"value": 1}
                  }
                }
              }
            }
          }
        },
        {
          "data": {"name": "conformal"},
          "mark": {"type": "line", "color": "#808080", "strokeWidth": 4, "strokeDash": [4, 6.6], "strokeCap": "butt", "clip": true},
          "encoding": {
            "y": {"field": "cs2", "type": "quantitative", "scale": {"domain": [0, 1], "nice": false}, "title": "cₛ²/c²"}
          }
        },
        {
          "data": {"name": "lqcd"},
          "mark": {"type": "line", "strokeWidth": 4.5, "interpolate": "monotone", "clip": true},
          "encoding": {
            "y": {"field": "cs2", "type": "quantitative", "scale": {"domain": [0, 1], "nice": false}, "title": "cₛ²/c²"},
            "color": {
              "field": "series",
              "type": "nominal",
              "scale": {
                "domain": ["LQCD A", "LQCD B", "LQCD C", "LQCD D", "LQCD cont"],
                "range": ["#0000ff", "#ff8c00", "#008000", "#800080", "#ff0000"]
              },
              "legend": {
                "title": null,
                "orient": "none",
                "direction": "vertical",
                "legendX": 455,
                "legendY": 554,
                "rowPadding": 14.75,
                "symbolType": "stroke",
                "symbolOpacity": 1,
                "encoding": {
                  "symbols": {
                    "shape": {"value": "stroke"},
                    "fill": {"value": "transparent"},
                    "stroke": {"value": {"expr": "datum.value === 'LQCD A' ? '#0000ff' : datum.value === 'LQCD B' ? '#ff8c00' : datum.value === 'LQCD C' ? '#008000' : datum.value === 'LQCD D' ? '#800080' : '#ff0000'"}},
                    "strokeWidth": {"value": 4.5},
                    "opacity": {"value": 1},
                    "strokeOpacity": {"value": 1}
                  }
                }
              }
            }
          }
        }
      ]
    },
    {
      "layer": [
        {
          "data": {"name": "pqcd"},
          "mark": {"type": "area", "opacity": 0.3, "interpolate": "monotone", "clip": true},
          "encoding": {
            "y": {"field": "lo", "type": "quantitative", "stack": null, "scale": {"domain": [0, 1], "nice": false}, "title": "cₛ²/c²"},
            "y2": {"field": "hi"},
            "color": {
              "field": "series",
              "type": "nominal",
              "scale": {
                "domain": ["pQCD", "NLO χPT mπ\u2002=\u2002170MeV", "NLO χPT mπ\u2002=\u2002139MeV"],
                "range": ["#ff7f0e", "#1f77b4", "#ff7f0e"]
              },
              "legend": {
                "title": null,
                "orient": "none",
                "direction": "vertical",
                "legendX": 589,
                "legendY": 25,
                "rowPadding": 18,
                "symbolOpacity": 1,
                "encoding": {
                  "symbols": {
                    "shape": {"value": {"expr": "datum.value === 'pQCD' ? 'M-1,-0.68H1V0.68H-1Z' : 'stroke'"}},
                    "fill": {"value": {"expr": "datum.value === 'pQCD' ? '#ffd9b7' : 'transparent'"}},
                    "fillOpacity": {"value": {"expr": "datum.value === 'pQCD' ? 0.3 : 0"}},
                    "stroke": {"value": {"expr": "datum.value === 'pQCD' ? 'transparent' : (indexof(datum.value, '170') >= 0 ? '#1f77b4' : '#ff7f0e')"}},
                    "strokeDash": {"value": {"expr": "datum.value === 'pQCD' ? [1, 0] : [16.7, 7.2]"}},
                    "strokeWidth": {"value": {"expr": "datum.value === 'pQCD' ? 0 : 4.5"}},
                    "opacity": {"value": 1},
                    "strokeOpacity": {"value": 1}
                  }
                }
              }
            }
          }
        },
        {
          "data": {"name": "nlo"},
          "mark": {"type": "line", "strokeWidth": 4.5, "strokeDash": [16.7, 7.2], "interpolate": "monotone", "clip": true},
          "encoding": {
            "y": {"field": "cs2", "type": "quantitative", "scale": {"domain": [0, 1], "nice": false}, "title": "cₛ²/c²"},
            "color": {
              "field": "series",
              "type": "nominal",
              "scale": {
                "domain": ["pQCD", "NLO χPT mπ\u2002=\u2002170MeV", "NLO χPT mπ\u2002=\u2002139MeV"],
                "range": ["#ff7f0e", "#1f77b4", "#ff7f0e"]
              },
              "legend": {
                "title": null,
                "orient": "none",
                "direction": "vertical",
                "legendX": 589,
                "legendY": 25,
                "rowPadding": 18,
                "symbolOpacity": 1,
                "encoding": {
                  "symbols": {
                    "shape": {"value": {"expr": "datum.value === 'pQCD' ? 'M-1,-0.68H1V0.68H-1Z' : 'stroke'"}},
                    "fill": {"value": {"expr": "datum.value === 'pQCD' ? '#ffd9b7' : 'transparent'"}},
                    "fillOpacity": {"value": {"expr": "datum.value === 'pQCD' ? 0.3 : 0"}},
                    "stroke": {"value": {"expr": "datum.value === 'pQCD' ? 'transparent' : (indexof(datum.value, '170') >= 0 ? '#1f77b4' : '#ff7f0e')"}},
                    "strokeDash": {"value": {"expr": "datum.value === 'pQCD' ? [1, 0] : [16.7, 7.2]"}},
                    "strokeWidth": {"value": {"expr": "datum.value === 'pQCD' ? 0 : 4.5"}},
                    "opacity": {"value": 1},
                    "strokeOpacity": {"value": 1}
                  }
                }
              }
            }
          }
        }
      ]
    }
  ],
  "resolve": {"scale": {"color": "independent"}}
}
